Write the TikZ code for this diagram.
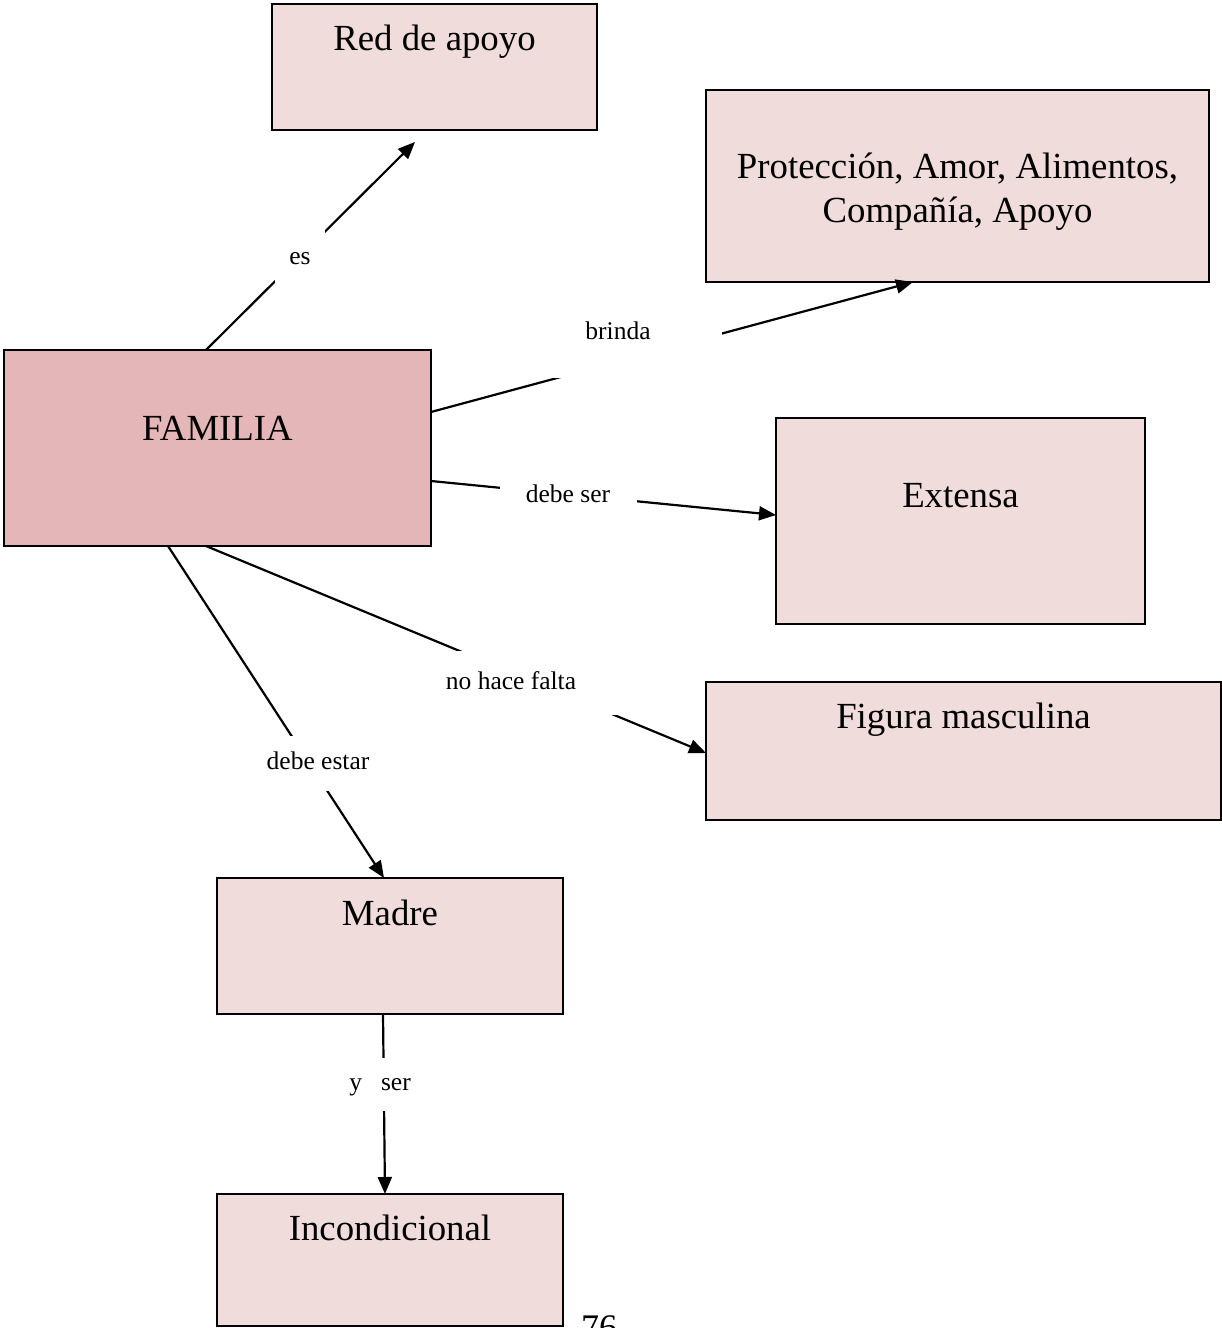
\documentclass[tikz,border=0pt]{standalone}
\usepackage{fontspec}
\setmainfont{Liberation Serif}
\usetikzlibrary{arrows.meta}
\definecolor{famfill}{HTML}{E4B6B7}
\definecolor{boxfill}{HTML}{F1DCDC}
\tikzset{
  box/.style={draw=black, line width=2pt, fill=boxfill, inner sep=0pt, outer sep=0pt,
    font=\fontsize{36.8}{44}\selectfont, align=center},
  famstyle/.style={box, fill=famfill},
  intext/.style={anchor=base, font=\fontsize{36.8}{44}\selectfont, inner sep=0pt, align=center},
  conn/.style={line width=2.2pt, -{Triangle[length=17pt,width=14pt]}},
  lbl/.style={fill=white, inner sep=0pt, font=\fontsize{25.5}{30}\selectfont,
    text height=12pt, text depth=0pt}
}
\begin{document}
\begin{tikzpicture}[x=1pt,y=-1pt]
\useasboundingbox (0,0) rectangle (1222,1328);
\fill[white] (0,0) rectangle (1222,1328);
% boxes
\node[box, minimum width=325pt, minimum height=126pt,
  label={[intext, yshift=-46pt]north:Red de apoyo}] (red) at (434.5,67) {};
\node[box, minimum width=503pt, minimum height=192pt,
  label={[intext, anchor=center, yshift=-102pt]north:Protección, Amor, Alimentos,\\Compañía, Apoyo}] (prot) at (957.5,186) {};
\node[famstyle, minimum width=427pt, minimum height=196pt,
  label={[intext, yshift=-90pt]north:FAMILIA}] (fam) at (217.5,448) {};
\node[box, minimum width=369pt, minimum height=206pt,
  label={[intext, yshift=-89pt]north:Extensa}] (ext) at (960.5,521) {};
\node[box, minimum width=515pt, minimum height=138pt,
  label={[intext, yshift=-46pt]north:Figura masculina}] (fig) at (963.5,751) {};
\node[box, minimum width=346pt, minimum height=136pt,
  label={[intext, yshift=-47pt]north:Madre}] (madre) at (390,946) {};
\node[box, minimum width=346pt, minimum height=132pt,
  label={[intext, yshift=-46pt]north:Incondicional}] (inc) at (390,1260) {};
% connectors
\draw[conn] ([xshift=-11.5pt]fam.north) -- ([xshift=-19.5pt, yshift=-12pt]red.south);
\draw[conn] ([yshift=36pt]fam.east) -- ([xshift=-44.5pt]prot.south);
\draw[conn] ([yshift=-33pt]fam.east) -- ([yshift=6pt]ext.west);
\draw[conn] ([xshift=-11.5pt]fam.south) -- ([yshift=-2pt]fig.west);
\draw[conn] ([xshift=-49.5pt]fam.south) -- ([xshift=-6pt]madre.north);
\draw[conn] ([xshift=-7pt]madre.south) -- ([xshift=-5pt]inc.north);
% connector labels
\node[lbl, minimum width=50pt, minimum height=58pt] (les) at (300,258) {es};
\node[lbl, minimum width=208pt, minimum height=90pt] (lbrinda) at (618,333) {brinda};
\node[lbl, minimum width=137pt, minimum height=40pt] (ldebeser) at (568,496) {debe ser};
\node[lbl, minimum width=234pt, minimum height=64pt] (lfalta) at (511,683) {no hace falta};
\node[lbl, minimum width=120pt, minimum height=55pt] (lestar) at (318,763) {debe estar};
\node[lbl, minimum width=84pt, minimum height=53pt] (lyser) at (380,1084) {y\hspace{19pt}ser};
% page number (cut off at the lower edge, as in the reference)
\node[anchor=base, inner sep=0pt, font=\fontsize{36}{40}\selectfont] (pagenum) at (599,1339) {76};
\end{tikzpicture}
\end{document}
